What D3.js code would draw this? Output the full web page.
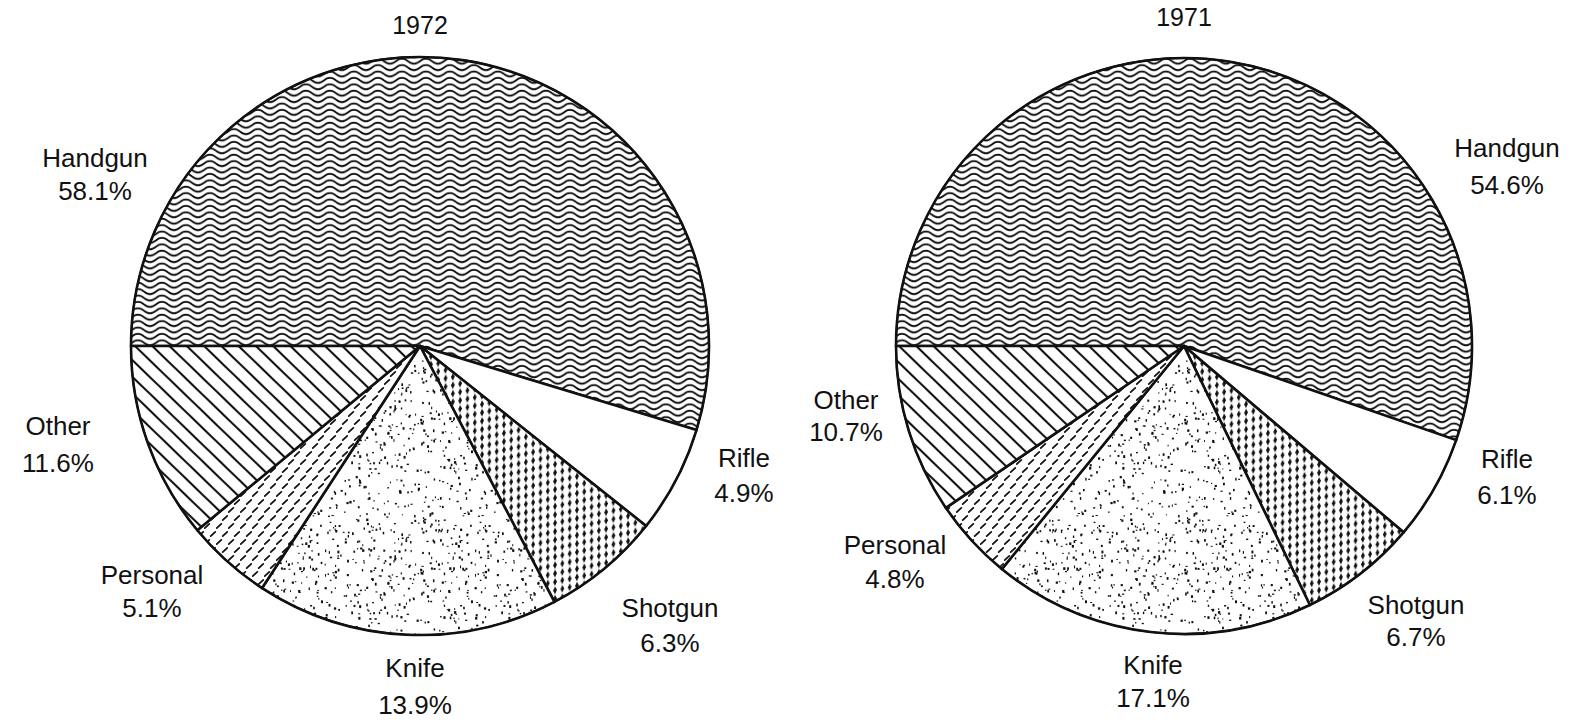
<!DOCTYPE html>
<html>
<head>
<meta charset="utf-8">
<script src="https://d3js.org/d3.v7.min.js"></script>
<style>
  body { margin: 0; background: white; }
  text { font-family: "Liberation Sans", Arial, sans-serif; fill: #111; }
</style>
</head>
<body>
<div id="chart"></div>
<script>

// categories, clockwise from 9 o'clock
var categories = ["Handgun", "Rifle", "Shotgun", "Knife", "Personal", "Other"];

// slice shares as drawn in the picture (percent)
var share1972 = [54.7, 6.0, 6.6, 16.9, 4.8, 11.0];
var share1971 = [55.3, 5.9, 6.6, 18.1, 4.6, 9.5];

// printed percentages
var label1972 = ["58.1%", "4.9%", "6.3%", "13.9%", "5.1%", "11.6%"];
var label1971 = ["54.6%", "6.1%", "6.7%", "17.1%", "4.8%", "10.7%"];

var years = ["1972", "1971"];

var W = 1575, H = 726;

var svg = d3.select("#chart").append("svg")
  .attr("width", W)
  .attr("height", H);

var defs = svg.append("defs");

// wavy lines (handgun)
var wp = 24, ws = 6.4;
var wave = defs.append("pattern")
  .attr("id", "p-Handgun")
  .attr("patternUnits", "userSpaceOnUse")
  .attr("width", wp).attr("height", ws);
wave.append("rect").attr("width", wp).attr("height", ws).attr("fill", "white");
[-ws, 0, ws].forEach(function(o) {
  var y = ws / 2 + o;
  wave.append("path")
    .attr("d", "M" + (-wp / 2) + "," + y + " Q" + (-wp / 4) + "," + (y + 5) + " 0," + y +
      " T" + (wp / 2) + "," + y + " T" + wp + "," + y + " T" + (wp * 1.5) + "," + y)
    .attr("fill", "none")
    .attr("stroke", "#111")
    .attr("stroke-width", 1.9);
});

// rifle is plain white
defs.append("pattern")
  .attr("id", "p-Rifle")
  .attr("patternUnits", "userSpaceOnUse")
  .attr("width", 10).attr("height", 10)
  .append("rect").attr("width", 10).attr("height", 10).attr("fill", "white");

// spindles (shotgun)
var shot = defs.append("pattern")
  .attr("id", "p-Shotgun")
  .attr("patternUnits", "userSpaceOnUse")
  .attr("width", 7.3).attr("height", 8.4)
  .attr("patternTransform", "skewY(-12)");
shot.append("rect").attr("width", 7.3).attr("height", 8.4).attr("fill", "white");
shot.append("path")
  .attr("d", "M3.65,0.2 L5.4,4.2 L3.65,8.2 L1.9,4.2 Z")
  .attr("fill", "#111");
shot.append("rect").attr("x", 2.0).attr("y", 3.5).attr("width", 3.3).attr("height", 1.4).attr("fill", "#111");

// stipple (knife)
var st = 150;
var stip = defs.append("pattern")
  .attr("id", "p-Knife")
  .attr("patternUnits", "userSpaceOnUse")
  .attr("width", st).attr("height", st);
stip.append("rect").attr("width", st).attr("height", st).attr("fill", "white");
var seed = 987654;
function lcg() { seed = (seed * 1103515245 + 12345) % 2147483648; return seed / 2147483648; }
for (var i = 0; i < 430; i++) {
  stip.append("rect")
    .attr("x", lcg() * (st - 2))
    .attr("y", lcg() * (st - 3))
    .attr("width", 1 + lcg() * 1.3)
    .attr("height", 1 + lcg() * 1.9)
    .attr("fill", "#111");
}

// short slanted dashes (personal)
var dash = defs.append("pattern")
  .attr("id", "p-Personal")
  .attr("patternUnits", "userSpaceOnUse")
  .attr("width", 12).attr("height", 16);
dash.append("rect").attr("width", 12).attr("height", 16).attr("fill", "white");
[[3, 4], [9, 12]].forEach(function(c) {
  dash.append("line")
    .attr("x1", c[0] - 2.3).attr("y1", c[1] + 2.1)
    .attr("x2", c[0] + 2.3).attr("y2", c[1] - 2.1)
    .attr("stroke", "#111").attr("stroke-width", 1.8)
    .attr("stroke-linecap", "round");
});

// diagonal lines (other)
var diag = defs.append("pattern")
  .attr("id", "p-Other")
  .attr("patternUnits", "userSpaceOnUse")
  .attr("width", 10).attr("height", 12)
  .attr("patternTransform", "rotate(44)");
diag.append("rect").attr("width", 10).attr("height", 12).attr("fill", "white");
diag.append("line")
  .attr("x1", 0).attr("x2", 10)
  .attr("y1", 6).attr("y2", 6)
  .attr("stroke", "#111").attr("stroke-width", 2.1);

// layout of the two pies and their labels: [x, line1 y, line2 y]
var pies = [
  { year: years[0], shares: share1972, labels: label1972, cx: 420, cy: 346, r: 289, titleY: 25,
    pos: [[95, 158, 191], [744, 458, 493], [670, 608, 643], [415, 668, 705], [152, 575, 608], [58, 426, 463]] },
  { year: years[1], shares: share1971, labels: label1971, cx: 1184, cy: 346, r: 288, titleY: 17,
    pos: [[1507, 148, 185], [1507, 459, 495], [1416, 605, 637], [1153, 665, 698], [895, 545, 579], [846, 400, 432]] }
];

var pie = d3.pie()
  .sort(null)
  .startAngle(-Math.PI / 2)
  .endAngle(1.5 * Math.PI);

pies.forEach(function(p) {
  var data = categories.map(function(c, i) { return { name: c, value: p.shares[i], label: p.labels[i] }; });
  var arc = d3.arc().innerRadius(0).outerRadius(p.r);

  var g = svg.append("g")
    .attr("transform", "translate(" + p.cx + "," + p.cy + ")");

  g.selectAll("path.slice")
    .data(pie.value(function(d) { return d.value; })(data))
    .enter()
    .append("path")
      .attr("class", "slice")
      .attr("d", arc)
      .attr("fill", function(d) { return "url(#p-" + d.data.name + ")"; })
      .attr("stroke", "#111")
      .attr("stroke-width", 2.6)
      .attr("stroke-linejoin", "round");

  g.append("circle")
    .attr("r", p.r)
    .attr("fill", "none")
    .attr("stroke", "#111")
    .attr("stroke-width", 1.8);

  // title
  svg.append("text")
    .attr("x", p.cx)
    .attr("y", p.titleY)
    .attr("dy", "0.35em")
    .attr("text-anchor", "middle")
    .style("font-size", "25px")
    .text(p.year);

  // labels
  data.forEach(function(d, i) {
    var q = p.pos[i];
    svg.append("text")
      .attr("x", q[0]).attr("y", q[1]).attr("dy", "0.35em")
      .attr("text-anchor", "middle")
      .style("font-size", "26px")
      .text(d.name);
    svg.append("text")
      .attr("x", q[0]).attr("y", q[2]).attr("dy", "0.35em")
      .attr("text-anchor", "middle")
      .style("font-size", "26px")
      .text(d.label);
  });
});

</script>
</body>
</html>
